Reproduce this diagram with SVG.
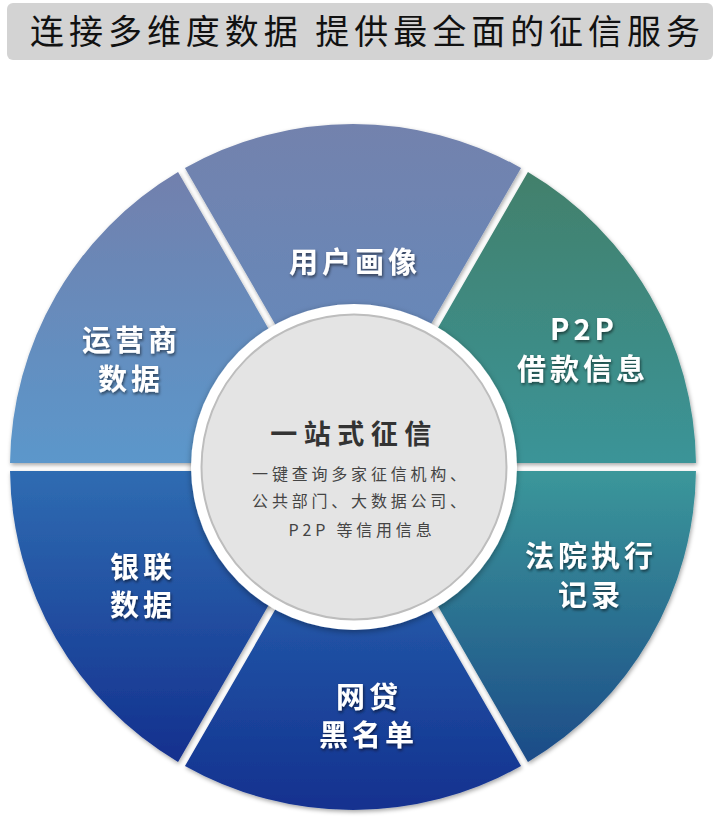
<svg xmlns="http://www.w3.org/2000/svg" width="720" height="824" viewBox="0 0 720 824">
<style>
.lbl{font-family:"Noto Sans CJK SC","Noto Sans",sans-serif;font-weight:bold;font-size:29px;letter-spacing:4px;fill:#ffffff;text-anchor:middle;filter:url(#tshadow)}
.sub{font-family:"Noto Sans CJK SC","Noto Sans",sans-serif;font-size:16px;letter-spacing:3.8px;fill:#444444;text-anchor:middle}
.seg{filter:url(#shadow)}
</style>
<defs>
<filter id="shadow" x="-10%" y="-10%" width="120%" height="120%">
<feDropShadow dx="1" dy="2" stdDeviation="2.2" flood-color="#000" flood-opacity="0.35"/>
</filter>
<filter id="tshadow" x="-10%" y="-20%" width="120%" height="150%">
<feDropShadow dx="1" dy="2" stdDeviation="1.5" flood-color="#000" flood-opacity="0.55"/>
</filter>
<filter id="ringshadow" x="-10%" y="-10%" width="120%" height="120%">
<feDropShadow dx="0" dy="2" stdDeviation="3" flood-color="#000" flood-opacity="0.35"/>
</filter>
<linearGradient id="gA" x1="0" y1="0" x2="0" y2="1"><stop offset="0" stop-color="#7382ad"/><stop offset="1" stop-color="#6788b9"/></linearGradient>
<linearGradient id="gB" x1="0" y1="0" x2="0" y2="1"><stop offset="0" stop-color="#43806b"/><stop offset="1" stop-color="#3a9498"/></linearGradient>
<linearGradient id="gC" x1="0" y1="0" x2="0" y2="1"><stop offset="0" stop-color="#3b979a"/><stop offset="1" stop-color="#1c4b88"/></linearGradient>
<linearGradient id="gD" x1="0" y1="0" x2="0" y2="1"><stop offset="0" stop-color="#2358a8"/><stop offset="1" stop-color="#13318f"/></linearGradient>
<linearGradient id="gE" x1="0" y1="0" x2="0" y2="1"><stop offset="0" stop-color="#2f6cb2"/><stop offset="1" stop-color="#13308e"/></linearGradient>
<linearGradient id="gF" x1="0" y1="0" x2="0" y2="1"><stop offset="0" stop-color="#7280ad"/><stop offset="1" stop-color="#5b97cb"/></linearGradient>
</defs>

<g id="title">
<rect x="7" y="3" width="706" height="57" rx="6" fill="#d3d3d3"/>
<text x="365" y="44" font-family="Noto Sans CJK SC, Noto Sans, sans-serif" font-size="34" fill="#111" text-anchor="middle" textLength="670" lengthAdjust="spacing">连接多维度数据 提供最全面的征信服务</text>
</g>

<g id="seg-user" class="seg">
<path d="M184.97,167.98 A343,343 0 0 1 521.03,167.98 L424.51,335.14 A150,150 0 0 0 281.49,335.14 Z" fill="url(#gA)"/>
<text class="lbl" x="355" y="273">用户画像</text>
</g>
<g id="seg-p2p" class="seg">
<path d="M527.95,171.98 A343,343 0 0 1 695.98,463 L502.95,463 A150,150 0 0 0 431.44,339.14 Z" fill="url(#gB)"/>
<text class="lbl" x="584" y="340" letter-spacing="7">P2P</text>
<text class="lbl" x="583" y="380">借款信息</text>
</g>
<g id="seg-court" class="seg">
<path d="M695.98,471 A343,343 0 0 1 527.95,762.02 L431.44,594.86 A150,150 0 0 0 502.95,471 Z" fill="url(#gC)"/>
<text class="lbl" x="591" y="567">法院执行</text>
<text class="lbl" x="591" y="606">记录</text>
</g>
<g id="seg-blacklist" class="seg">
<path d="M521.03,766.02 A343,343 0 0 1 184.97,766.02 L281.49,598.86 A150,150 0 0 0 424.51,598.86 Z" fill="url(#gD)"/>
<text class="lbl" x="369" y="708">网贷</text>
<text class="lbl" x="368.5" y="746">黑名单</text>
</g>
<g id="seg-unionpay" class="seg">
<path d="M178.05,762.02 A343,343 0 0 1 10.02,471 L203.05,471 A150,150 0 0 0 274.56,594.86 Z" fill="url(#gE)"/>
<text class="lbl" x="143" y="578">银联</text>
<text class="lbl" x="143" y="616">数据</text>
</g>
<g id="seg-carrier" class="seg">
<path d="M10.02,463 A343,343 0 0 1 178.05,171.98 L274.56,339.14 A150,150 0 0 0 203.05,463 Z" fill="url(#gF)"/>
<text class="lbl" x="131.5" y="351">运营商</text>
<text class="lbl" x="131" y="390">数据</text>
</g>

<g id="center">
<circle cx="354" cy="467" r="163" fill="#ffffff" filter="url(#ringshadow)"/>
<circle cx="354" cy="467" r="152.5" fill="#e4e4e4" stroke="#bdbdbd" stroke-width="2"/>
<text x="354" y="444" font-family="Noto Sans CJK SC, Noto Sans, sans-serif" font-weight="bold" font-size="27" letter-spacing="6.5" fill="#333333" text-anchor="middle">一站式征信</text>
<text class="sub" x="361" y="480">一键查询多家征信机构、</text>
<text class="sub" x="361" y="507">公共部门、大数据公司、</text>
<text class="sub" x="362" y="536">P2P 等信用信息</text>
</g>
<g id="connectors"/>
</svg>
